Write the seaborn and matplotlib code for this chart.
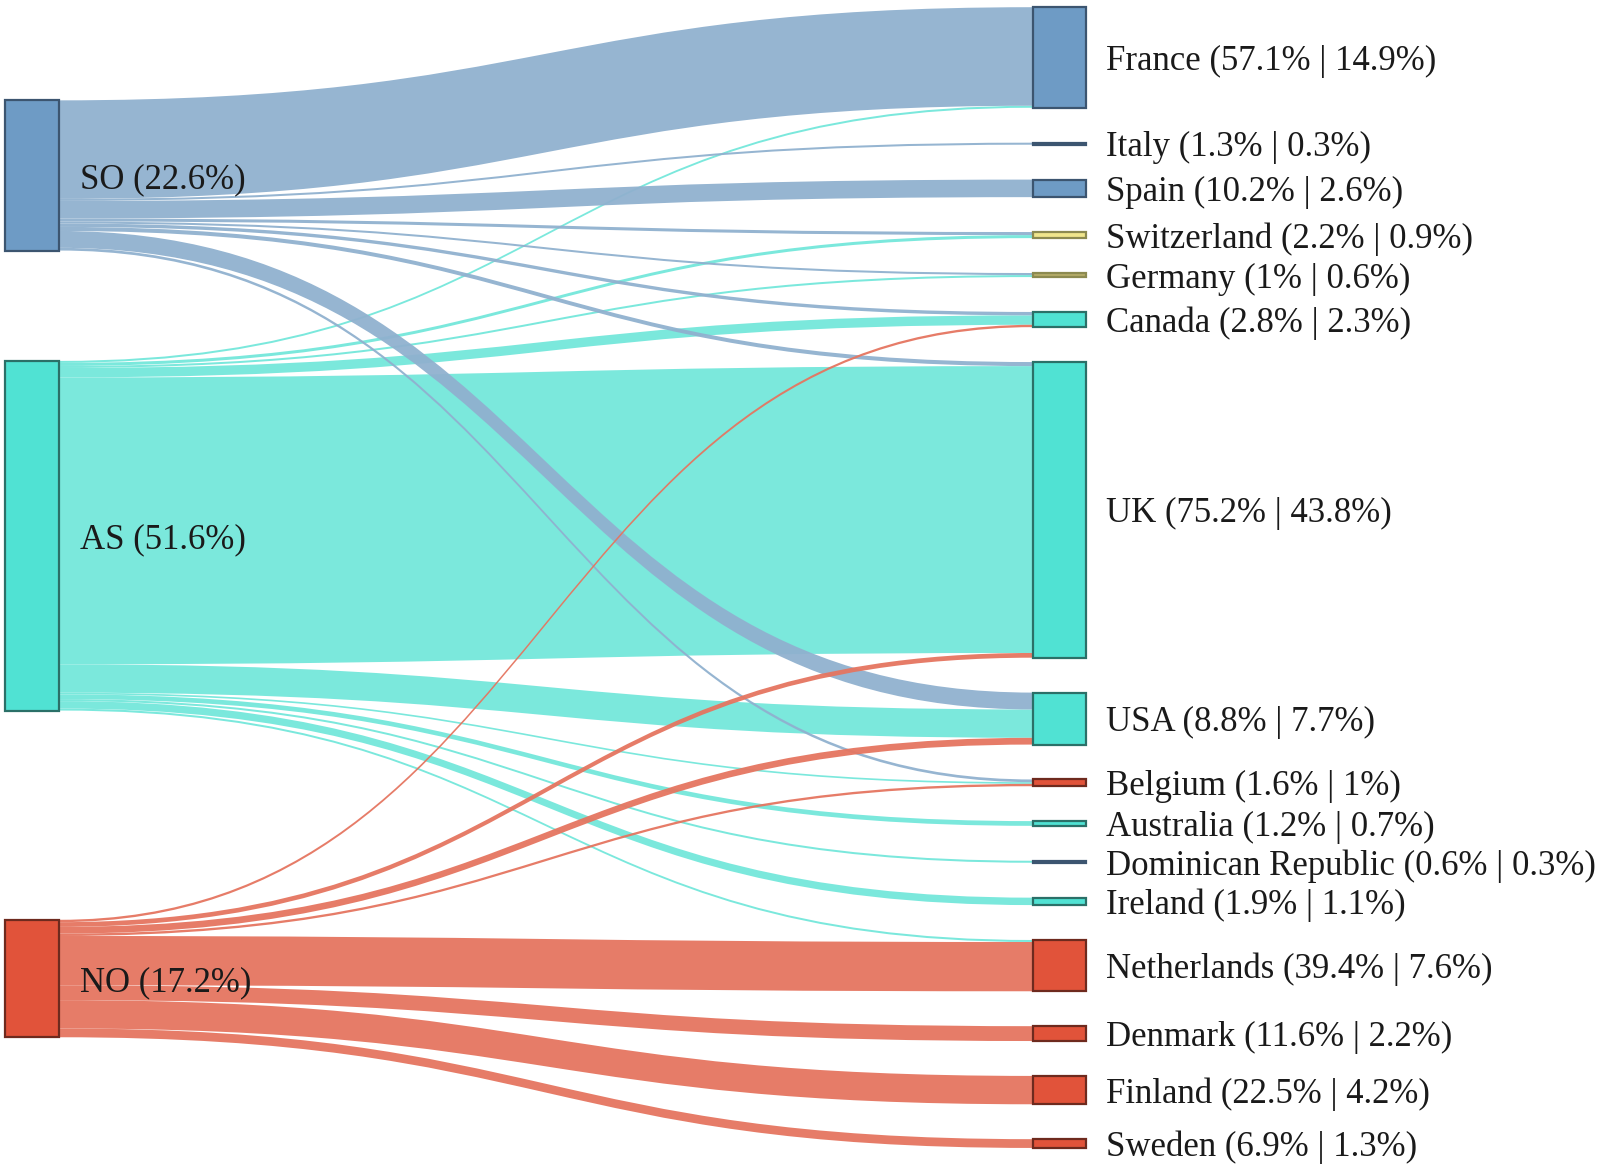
import matplotlib
matplotlib.use("Agg")
import matplotlib.pyplot as plt
from matplotlib.path import Path
from matplotlib.patches import PathPatch, Rectangle
import seaborn as sns

# Source regions (left column)
sources = ["SO", "AS", "NO"]
source_pct = [22.6, 51.6, 17.2]

# Destination countries (right column) with their two label percentages
targets = ["France", "Italy", "Spain", "Switzerland", "Germany", "Canada", "UK", "USA",
           "Belgium", "Australia", "Dominican Republic", "Ireland", "Netherlands",
           "Denmark", "Finland", "Sweden"]
target_pct_a = [57.1, 1.3, 10.2, 2.2, 1, 2.8, 75.2, 8.8, 1.6, 1.2, 0.6, 1.9, 39.4, 11.6, 22.5, 6.9]
target_pct_b = [14.9, 0.3, 2.6, 0.9, 0.6, 2.3, 43.8, 7.7, 1, 0.7, 0.3, 1.1, 7.6, 2.2, 4.2, 1.3]

so_flows = [14.6, 0.3, 2.6, 0.45, 0.3, 0.5, 0.6, 2.5, 0.4, 0, 0, 0, 0, 0, 0, 0]
as_flows = [0.3, 0, 0, 0.45, 0.3, 1.4, 42.5, 4.2, 0.25, 0.7, 0.3, 1.1, 0.3, 0, 0, 0]
no_flows = [0, 0, 0, 0, 0, 0.35, 0.7, 1.0, 0.35, 0, 0, 0, 7.3, 2.2, 4.2, 1.3]
flows = [so_flows, as_flows, no_flows]

# colours
blue, blue_dk, blue_link = "#6e9bc5", "#3c5570", "#90b1cf"
teal, teal_dk, teal_link = "#50e2d3", "#2b7068", "#74e7db"
red, red_dk, red_link = "#e1533a", "#6e2a1e", "#e57560"
khaki, khaki_dk = "#f0e68c", "#8c8a50"

source_fill = [blue, teal, red]
source_edge = [blue_dk, teal_dk, red_dk]
link_colors = [blue_link, teal_link, red_link]
target_fill = [blue, blue, blue, khaki, "#b5ac68", teal, teal, teal,
               red, teal, blue, teal, red, red, red, red]
target_edge = [blue_dk, blue_dk, blue_dk, khaki_dk, khaki_dk, teal_dk, teal_dk, teal_dk,
               red_dk, teal_dk, blue_dk, teal_dk, red_dk, red_dk, red_dk, red_dk]

# layout (pixels / units)
px_per_unit = 6.75
top_px = 7.2
gap = 5.17
left_x0, left_x1 = 5, 59
right_x0, right_x1 = 1033, 1086
left_tops = [13.8, 52.4, 135.2]
text_dy = 0.6  # nudge labels down a little

sns.set_style("white")
plt.rcParams["font.family"] = ["Liberation Serif", "DejaVu Serif"]

fig = plt.figure(figsize=(16.03, 11.67), dpi=100)
ax = fig.add_axes([0, 0, 1, 1])
ax.set_xlim(0, 1603)
ax.set_ylim((1167 - top_px) / px_per_unit, -top_px / px_per_unit)
ax.axis("off")

# right node positions: stacked with a constant gap
target_sizes = [sum(f[j] for f in flows) for j in range(len(targets))]
target_tops = []
y = 0.0
for s in target_sizes:
    target_tops.append(y)
    y += s + gap
source_sizes = [sum(f) for f in flows]


def band(x0, y0a, y0b, x1, y1a, y1b, color, z):
    xm = (x0 + x1) / 2
    verts = [(x0, y0a), (xm, y0a), (xm, y1a), (x1, y1a),
             (x1, y1b), (xm, y1b), (xm, y0b), (x0, y0b), (x0, y0a)]
    codes = [Path.MOVETO, Path.CURVE4, Path.CURVE4, Path.CURVE4,
             Path.LINETO, Path.CURVE4, Path.CURVE4, Path.CURVE4, Path.CLOSEPOLY]
    ax.add_patch(PathPatch(Path(verts, codes), facecolor=color, edgecolor="none",
                           alpha=0.95, zorder=z))


# incoming offsets at each target, in source order
tgt_off = {}
for j in range(len(targets)):
    c = target_tops[j]
    for i in range(len(sources)):
        if flows[i][j] > 0:
            tgt_off[(i, j)] = c
            c += flows[i][j]

# outgoing bands at each source, in target order
draw_order = {1: 1, 0: 2, 2: 3}
for i in range(len(sources)):
    c = left_tops[i]
    for j in range(len(targets)):
        w = flows[i][j]
        if w <= 0:
            continue
        t = tgt_off[(i, j)]
        band(left_x1, c, c + w, right_x0, t, t + w, link_colors[i], draw_order[i])
        c += w

# nodes
for i, name in enumerate(sources):
    ax.add_patch(Rectangle((left_x0, left_tops[i]), left_x1 - left_x0, source_sizes[i],
                           facecolor=source_fill[i], edgecolor=source_edge[i],
                           linewidth=1.6, zorder=5))
    ax.text(80, left_tops[i] + source_sizes[i] / 2 + text_dy, f"{name} ({source_pct[i]:g}%)",
            fontsize=25, va="center", ha="left", color="#1a1a1a", zorder=6)

for j, name in enumerate(targets):
    ax.add_patch(Rectangle((right_x0, target_tops[j]), right_x1 - right_x0, target_sizes[j],
                           facecolor=target_fill[j], edgecolor=target_edge[j],
                           linewidth=1.6, zorder=5))
    ax.text(1106, target_tops[j] + target_sizes[j] / 2 + text_dy,
            f"{name} ({target_pct_a[j]:g}% | {target_pct_b[j]:g}%)",
            fontsize=25, va="center", ha="left", color="#1a1a1a", zorder=6)

fig.savefig("out.png", dpi=100, facecolor="white")
